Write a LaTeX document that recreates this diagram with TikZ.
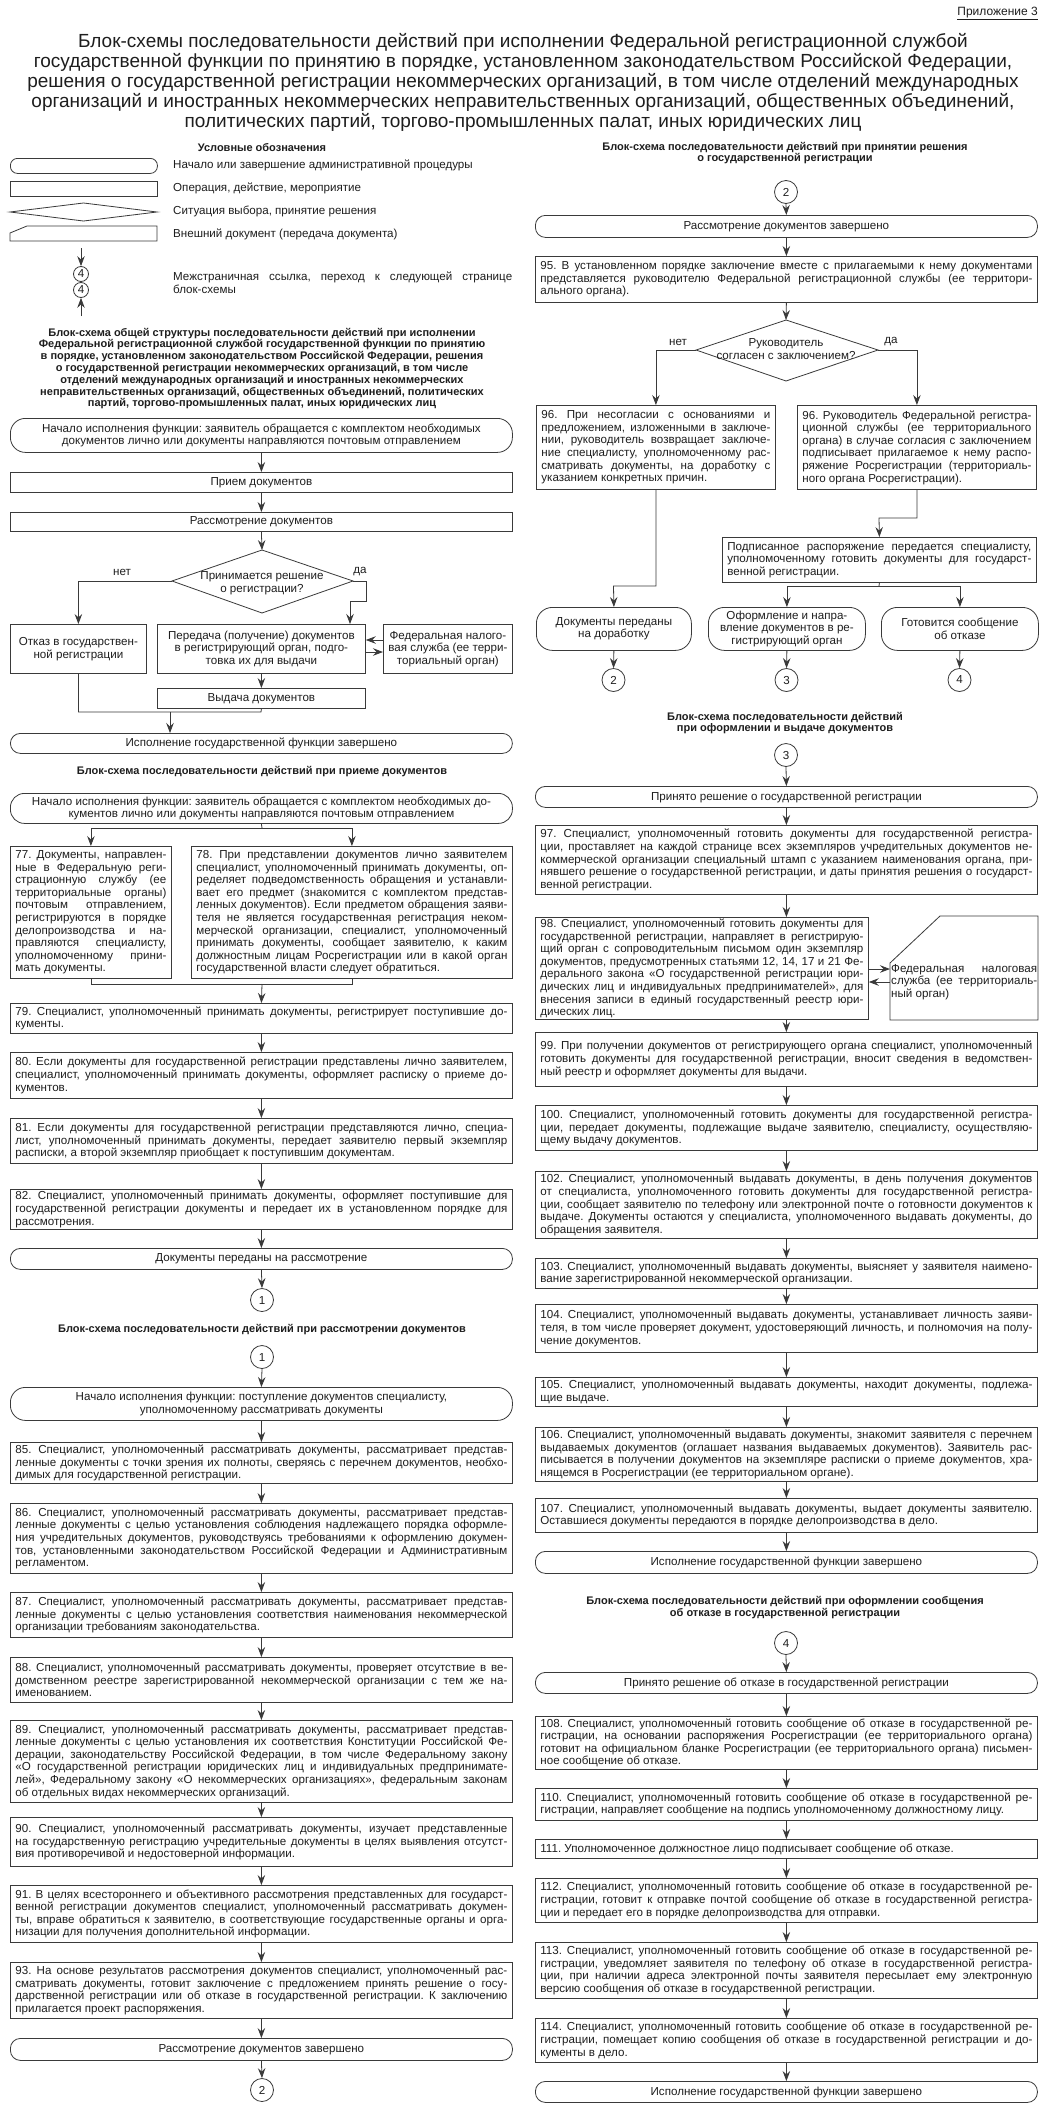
\documentclass[tikz,border=0pt]{standalone}
\usepackage{fontspec}
\setmainfont{Liberation Sans}
\usepackage{graphicx}
\usetikzlibrary{arrows.meta}
\frenchspacing
\definecolor{lc}{HTML}{3A3A3A}
\definecolor{tc}{HTML}{1E1E1E}
\newcommand\bodyf{\fontsize{11.6}{12.6}\selectfont\frenchspacing}
\newcommand\headf{\fontsize{11}{11.8}\selectfont\bfseries}
\newcommand\titf{\fontsize{19}{20}\selectfont}
\newsavebox\lnbox
\newcommand\jl[1]{\sbox\lnbox{#1}\ifdim\wd\lnbox>\hsize\hbox to\hsize{\resizebox{\hsize}{\height}{\usebox\lnbox}}\else\hbox to\hsize{#1}\fi}
\newcommand\el[1]{\sbox\lnbox{#1}\ifdim\wd\lnbox>\hsize\hbox to\hsize{\resizebox{\hsize}{\height}{\usebox\lnbox}}\else\hbox to\hsize{#1\hfil}\fi}
\newcommand\cl[1]{\sbox\lnbox{#1}\ifdim\wd\lnbox>\hsize\hbox to\hsize{\resizebox{\hsize}{\height}{\usebox\lnbox}}\else\hbox to\hsize{\hfil#1\hfil}\fi}
\newcommand\tb[2]{\vbox{\hsize=#1\relax#2}}
\tikzset{
  ln/.style={draw=lc, line width=0.8pt},
  arr/.style={ln, -{Stealth[length=10pt,width=7.5pt,inset=3.5pt]}},
  pbox/.style={draw=lc, line width=0.8pt, anchor=north west, inner xsep=5pt, inner ysep=1pt, font=\bodyf, text=tc, minimum width=502pt},
  term/.style={draw=lc, line width=0.8pt, anchor=north west, rounded corners=10pt, font=\bodyf, text=tc, align=center, minimum width=502pt, inner sep=1pt},
  conn/.style={circle, draw=lc, line width=0.8pt, minimum size=23pt, inner sep=0pt, font=\bodyf, text=tc},
  head/.style={font=\headf, align=center, text=tc, inner sep=0pt},
  lbl/.style={font=\bodyf, text=tc, inner sep=0pt},
}
\newcommand\LB[4]{\node[pbox, minimum height=#3] (#1) at (10,#2) {\tb{492pt}{#4}};}
\newcommand\RB[4]{\node[pbox, minimum height=#3] (#1) at (535,#2) {\tb{492pt}{#4}};}
\newcommand\LT[4]{\node[term, minimum height=#3] (#1) at (10,#2) {#4};}
\newcommand\RT[4]{\node[term, minimum height=#3] (#1) at (535,#2) {#4};}
\begin{document}
\begin{tikzpicture}[x=1pt,y=-1pt]
\useasboundingbox (0,0) rectangle (1046,2120);
\fill[white] (0,0) rectangle (1046,2120);

% ---------- header
\node[anchor=north east, font=\fontsize{12}{13}\selectfont, text=tc, inner sep=0pt] (app) at (1038,7) {\underline{Приложение 3}};
\node[align=center, font=\titf, text=tc, inner sep=0pt] (title) at (523,82) {Блок-схемы последовательности действий при исполнении Федеральной регистрационной службой\\государственной функции по принятию в порядке, установленном законодательством Российской Федерации,\\решения о государственной регистрации некоммерческих организаций, в том числе отделений международных\\организаций и иностранных некоммерческих неправительственных организаций, общественных объединений,\\политических партий, торгово-промышленных палат, иных юридических лиц};

% ---------- legend
\node[head] (legt) at (262,148) {Условные обозначения};
\node[term, minimum width=147pt, minimum height=15pt, rounded corners=7pt] (lg1) at (10,158) {};
\node[pbox, minimum width=147pt, minimum height=15pt] (lg2) at (10,181) {};
\draw[ln] (10,212) -- (83.5,203) -- (157,212) -- (83.5,221) -- cycle;
\draw[ln] (10,233) -- (27,226) -- (157,226) -- (157,241) -- (10,241) -- cycle;
\node[lbl, anchor=west] (lgl1) at (173,165) {Начало или завершение административной процедуры};
\node[lbl, anchor=west] (lgl2) at (173,188) {Операция, действие, мероприятие};
\node[lbl, anchor=west] (lgl3) at (173,211) {Ситуация выбора, принятие решения};
\node[lbl, anchor=west] (lgl4) at (173,234) {Внешний документ (передача документа)};
\node[conn, minimum size=15pt] (lgc1) at (81,274) {4};
\node[conn, minimum size=15pt] (lgc2) at (81,290) {4};
\coordinate (lga) at (81,248);
\coordinate (lgb) at (81,316);
\draw[arr] (lga) -- (lgc1.north);
\draw[arr] (lgb) -- (lgc2.south);
\node[lbl, anchor=west] (lgl5) at (173,283) {\tb{339pt}{\jl{Межстраничная ссылка, переход к следующей странице}\el{блок-схемы}}};

% ---------- general structure
\node[head] (hA) at (262,368.5) {Блок-схема общей структуры последовательности действий при исполнении\\Федеральной регистрационной службой государственной функции по принятию\\в порядке, установленном законодательством Российской Федерации, решения\\о государственной регистрации некоммерческих организаций, в том числе\\отделений международных организаций и иностранных некоммерческих\\неправительственных организаций, общественных объединений, политических\\партий, торгово-промышленных палат, иных юридических лиц};
\node[term, minimum height=34, rounded corners=15pt] (startA) at (10,418) {Начало исполнения функции: заявитель обращается с комплектом необходимых\\документов лично или документы направляются почтовым отправлением};
\node[pbox, minimum height=20] (priem) at (10,472) {\tb{492pt}{\cl{Прием документов}}};
\node[pbox, minimum height=19] (rassm) at (10,512) {\tb{492pt}{\cl{Рассмотрение документов}}};
\coordinate (dAn) at (262,550);
\coordinate (dAe) at (353,581);
\coordinate (dAs) at (262,613);
\coordinate (dAw) at (172,581);
\draw[ln] (dAn) -- (dAe) -- (dAs) -- (dAw) -- cycle;
\node[lbl, align=center] (dA) at (262,583) {Принимается решение\\о регистрации?};
\node[lbl] (netA) at (122,572) {нет};
\node[lbl] (daA) at (360,572) {да};
\node[pbox, minimum width=136, minimum height=49] (otkaz) at (10,624) {\tb{126pt}{\cl{Отказ в государствен-}\cl{ной регистрации}}};
\node[pbox, minimum width=208, minimum height=49] (pered) at (157,624) {\tb{198pt}{\cl{Передача (получение) документов}\cl{в регистрирующий орган, подго-}\cl{товка их для выдачи}}};
\node[pbox, minimum width=129, minimum height=49] (fnsA) at (383,624) {\tb{119pt}{\cl{Федеральная налого-}\cl{вая служба (ее терри-}\cl{ториальный орган)}}};
\node[pbox, minimum width=208, minimum height=20] (vyd) at (157,688) {\tb{198pt}{\cl{Выдача документов}}};
\LT{endA}{733}{20}{Исполнение государственной функции завершено}
\draw[arr] (startA.south) -- (priem.north);
\draw[arr] (priem.south) -- (rassm.north);
\draw[arr] (rassm.south) -- (dAn);
\draw[arr] (dAw) -| (otkaz.north);
\coordinate (daA1) at (366,601);
\coordinate (daA2) at (350,601);
\draw[arr] (dAe) -| (daA1) -- (daA2) -- (daA2 |- pered.north);
\coordinate (pfA) at (0,640);
\coordinate (pfB) at (0,652);
\draw[arr] (fnsA.west |- pfA) -- (pered.east |- pfA);
\draw[arr] (pered.east |- pfB) -- (fnsA.west |- pfB);
\draw[arr] (pered.south) -- (vyd.north);
\coordinate (jA) at (78,712);
\coordinate (jB) at (261,712);
\coordinate (jC) at (170,712);
\draw[ln] (otkaz.south) |- (jB) -- (vyd.south);
\draw[arr] (jC) -- (jC |- endA.north);

% ---------- reception
\node[head] (hB) at (262,772) {Блок-схема последовательности действий при приеме документов};
\node[term, minimum height=30, rounded corners=14pt] (startB) at (10,793) {Начало исполнения функции: заявитель обращается с комплектом необходимых до-\\кументов лично или документы направляются почтовым отправлением};
\node[pbox, minimum width=161, minimum height=132] (b77) at (10,846) {\tb{151pt}{%
\jl{77. Документы, направлен-}\jl{ные в Федеральную реги-}\jl{страционную службу (ее}\jl{территориальные органы)}\jl{почтовым отправлением,}\jl{регистрируются в порядке}\jl{делопроизводства и на-}\jl{правляются специалисту,}\jl{уполномоченному прини-}\el{мать документы.}}};
\node[pbox, minimum width=321, minimum height=132] (b78) at (191,846) {\tb{311pt}{%
\jl{78. При представлении документов лично заявителем}\jl{специалист, уполномоченный принимать документы, оп-}\jl{ределяет подведомственность обращения и устанавли-}\jl{вает его предмет (знакомится с комплектом представ-}\jl{ленных документов). Если предметом обращения заяви-}\jl{теля не является государственная регистрация неком-}\jl{мерческой организации, специалист, уполномоченный}\jl{принимать документы, сообщает заявителю, к каким}\jl{должностным лицам Росрегистрации или в какой орган}\el{государственной власти следует обратиться.}}};
\LB{b79}{1003}{30}{\jl{79. Специалист, уполномоченный принимать документы, регистрирует поступившие до-}\el{кументы.}}
\LB{b80}{1052}{46}{\jl{80. Если документы для государственной регистрации представлены лично заявителем,}\jl{специалист, уполномоченный принимать документы, оформляет расписку о приеме до-}\el{кументов.}}
\LB{b81}{1118}{45}{\jl{81. Если документы для государственной регистрации представляются лично, специа-}\jl{лист, уполномоченный принимать документы, передает заявителю первый экземпляр}\el{расписки, а второй экземпляр приобщает к поступившим документам.}}
\LB{b82}{1189}{40}{\jl{82. Специалист, уполномоченный принимать документы, оформляет поступившие для}\jl{государственной регистрации документы и передает их в установленном порядке для}\el{рассмотрения.}}
\LT{endB}{1248}{21}{Документы переданы на рассмотрение}
\node[conn] (c1a) at (262,1300) {1};
\coordinate (s1) at (262,828);
\draw[ln] (startB.south) -- (s1);
\draw[arr] (s1) -| (b77.north);
\draw[arr] (s1) -| (b78.north);
\coordinate (m1) at (262,984);
\draw[ln] (b77.south) |- (m1);
\draw[ln] (b78.south) |- (m1);
\draw[arr] (m1) -- (b79.north);
\draw[arr] (b79.south) -- (b80.north);
\draw[arr] (b80.south) -- (b81.north);
\draw[arr] (b81.south) -- (b82.north);
\draw[arr] (b82.south) -- (endB.north);
\draw[arr] (endB.south) -- (c1a.north);

% ---------- examination
\node[head] (hC) at (262,1330) {Блок-схема последовательности действий при рассмотрении документов};
\node[conn] (c1b) at (262,1357) {1};
\node[term, minimum height=33, rounded corners=15pt] (startC) at (10,1387) {Начало исполнения функции: поступление документов специалисту,\\уполномоченному рассматривать документы};
\LB{b85}{1442}{41}{\jl{85. Специалист, уполномоченный рассматривать документы, рассматривает представ-}\jl{ленные документы с точки зрения их полноты, сверяясь с перечнем документов, необхо-}\el{димых для государственной регистрации.}}
\LB{b86}{1503}{70}{\jl{86. Специалист, уполномоченный рассматривать документы, рассматривает представ-}\jl{ленные документы с целью установления соблюдения надлежащего порядка оформле-}\jl{ния учредительных документов, руководствуясь требованиями к оформлению докумен-}\jl{тов, установленными законодательством Российской Федерации и Административным}\el{регламентом.}}
\LB{b87}{1592}{45}{\jl{87. Специалист, уполномоченный рассматривать документы, рассматривает представ-}\jl{ленные документы с целью установления соответствия наименования некоммерческой}\el{организации требованиям законодательства.}}
\LB{b88}{1657}{45}{\jl{88. Специалист, уполномоченный рассматривать документы, проверяет отсутствие в ве-}\jl{домственном реестре зарегистрированной некоммерческой организации с тем же на-}\el{именованием.}}
\LB{b89}{1720}{82}{\jl{89. Специалист, уполномоченный рассматривать документы, рассматривает представ-}\jl{ленные документы с целью установления их соответствия Конституции Российской Фе-}\jl{дерации, законодательству Российской Федерации, в том числе Федеральному закону}\jl{«О государственной регистрации юридических лиц и индивидуальных предпринимате-}\jl{лей», Федеральному закону «О некоммерческих организациях», федеральным законам}\el{об отдельных видах некоммерческих организаций.}}
\LB{b90}{1817}{49}{\jl{90. Специалист, уполномоченный рассматривать документы, изучает представленные}\jl{на государственную регистрацию учредительные документы в целях выявления отсутст-}\el{вия противоречивой и недостоверной информации.}}
\LB{b91}{1885}{57}{\jl{91. В целях всестороннего и объективного рассмотрения представленных для государст-}\jl{венной регистрации документов специалист, уполномоченный рассматривать докумен-}\jl{ты, вправе обратиться к заявителю, в соответствующие государственные органы и орга-}\el{низации для получения дополнительной информации.}}
\LB{b93}{1962}{56}{\jl{93. На основе результатов рассмотрения документов специалист, уполномоченный рас-}\jl{сматривать документы, готовит заключение с предложением принять решение о госу-}\jl{дарственной регистрации или об отказе в государственной регистрации. К заключению}\el{прилагается проект распоряжения.}}
\LT{endC}{2038}{22}{Рассмотрение документов завершено}
\node[conn] (c2b) at (262,2090) {2};
\draw[arr] (c1b.south) -- (startC.north);
\draw[arr] (startC.south) -- (b85.north);
\draw[arr] (b85.south) -- (b86.north);
\draw[arr] (b86.south) -- (b87.north);
\draw[arr] (b87.south) -- (b88.north);
\draw[arr] (b88.south) -- (b89.north);
\draw[arr] (b89.south) -- (b90.north);
\draw[arr] (b90.south) -- (b91.north);
\draw[arr] (b91.south) -- (b93.north);
\draw[arr] (b93.south) -- (endC.north);
\draw[arr] (endC.south) -- (c2b.north);

% ---------- decision (right)
\node[head] (hD) at (785,153) {Блок-схема последовательности действий при принятии решения\\о государственной регистрации};
\node[conn] (c2c) at (786,192) {2};
\RT{tD}{215}{22}{Рассмотрение документов завершено}
\RB{b95}{256}{46}{\jl{95. В установленном порядке заключение вместе с прилагаемыми к нему документами}\jl{представляется руководителю Федеральной регистрационной службы (ее территори-}\el{ального органа).}}
\coordinate (dBn) at (786,320);
\coordinate (dBe) at (878,350);
\coordinate (dBs) at (786,381);
\coordinate (dBw) at (696,350);
\draw[ln] (dBn) -- (dBe) -- (dBs) -- (dBw) -- cycle;
\node[lbl, align=center] (dB) at (786,349) {Руководитель\\согласен с заключением?};
\node[lbl] (netB) at (678,342) {нет};
\node[lbl] (daB) at (891,342) {да};
\node[pbox, minimum width=239, minimum height=84] (b96l) at (536,405) {\tb{229pt}{\jl{96. При несогласии с основаниями и}\jl{предложением, изложенными в заключе-}\jl{нии, руководитель возвращает заключе-}\jl{ние специалисту, уполномоченному рас-}\jl{сматривать документы, на доработку с}\el{указанием конкретных причин.}}};
\node[pbox, minimum width=239, minimum height=84] (b96r) at (797,405) {\tb{229pt}{\jl{96. Руководитель Федеральной регистра-}\jl{ционной службы (ее территориального}\jl{органа) в случае согласия с заключением}\jl{подписывает прилагаемое к нему распо-}\jl{ряжение Росрегистрации (территориаль-}\el{ного органа Росрегистрации).}}};
\node[pbox, minimum width=314, minimum height=45] (podp) at (722,537) {\tb{304pt}{\jl{Подписанное распоряжение передается специалисту,}\jl{уполномоченному готовить документы для государст-}\el{венной регистрации.}}};
\node[term, minimum width=155, minimum height=43, rounded corners=16pt] (t1) at (536,607) {Документы переданы\\на доработку};
\node[term, minimum width=157, minimum height=43, rounded corners=16pt] (t2) at (708,607) {Оформление и напра-\\вление документов в ре-\\гистрирующий орган};
\node[term, minimum width=157, minimum height=43, rounded corners=16pt] (t3) at (881,607) {Готовится сообщение\\об отказе};
\node[conn] (c2d) at (613.5,680) {2};
\node[conn] (c3a) at (786.5,680) {3};
\node[conn] (c4a) at (959.5,680) {4};
\draw[arr] (c2c.south) -- (tD.north);
\draw[arr] (tD.south) -- (b95.north);
\draw[arr] (b95.south) -- (dBn);
\draw[arr] (dBw) -| (b96l.north);
\draw[arr] (dBe) -| (b96r.north);
\coordinate (k1) at (613.5,586);
\coordinate (k2) at (879,518);
\coordinate (k3) at (879,586);
\draw[arr] (b96l.south) |- (k1) -- (t1.north);
\draw[arr] (b96r.south) |- (k2) -- (podp.north);
\draw[ln] (podp.south) -- (k3);
\draw[arr] (k3) -| (t2.north);
\draw[arr] (k3) -| (t3.north);
\draw[arr] (t1.south) -- (c2d.north);
\draw[arr] (t2.south) -- (c3a.north);
\draw[arr] (t3.south) -- (c4a.north);

% ---------- issue (right)
\node[head] (hE) at (785,723) {Блок-схема последовательности действий\\при оформлении и выдаче документов};
\node[conn] (c3b) at (786,755) {3};
\RT{tE}{786}{21}{Принято решение о государственной регистрации}
\RB{b97}{825}{69}{\jl{97. Специалист, уполномоченный готовить документы для государственной регистра-}\jl{ции, проставляет на каждой странице всех экземпляров учредительных документов не-}\jl{коммерческой организации специальный штамп с указанием наименования органа, при-}\jl{нявшего решение о государственной регистрации, и даты принятия решения о государст-}\el{венной регистрации.}}
\node[pbox, minimum width=333, minimum height=102] (b98) at (535,917) {\tb{323pt}{\jl{98. Специалист, уполномоченный готовить документы для}\jl{государственной регистрации, направляет в регистрирую-}\jl{щий орган с сопроводительным письмом один экземпляр}\jl{документов, предусмотренных статьями 12, 14, 17 и 21 Фе-}\jl{дерального закона «О государственной регистрации юри-}\jl{дических лиц и индивидуальных предпринимателей», для}\jl{внесения записи в единый государственный реестр юри-}\el{дических лиц.}}};
\draw[ln] (890,963) -- (940,916) -- (1038,916) -- (1038,1020) -- (890,1020) -- cycle;
\node[lbl, anchor=north west] (fnsB) at (891,964) {\tb{146pt}{\jl{Федеральная налоговая}\jl{служба (ее территориаль-}\el{ный орган)}}};
\coordinate (fb1) at (890,969);
\coordinate (fb2) at (890,982);
\draw[arr] (b98.east |- fb1) -- (fb1);
\draw[arr] (fb2) -- (b98.east |- fb2);
\RB{b99}{1032}{54}{\jl{99. При получении документов от регистрирующего органа специалист, уполномоченный}\jl{готовить документы для государственной регистрации, вносит сведения в ведомствен-}\el{ный реестр и оформляет документы для выдачи.}}
\RB{b100}{1105}{45}{\jl{100. Специалист, уполномоченный готовить документы для государственной регистра-}\jl{ции, передает документы, подлежащие выдаче заявителю, специалисту, осуществляю-}\el{щему выдачу документов.}}
\RB{b102}{1171}{67}{\jl{102. Специалист, уполномоченный выдавать документы, в день получения документов}\jl{от специалиста, уполномоченного готовить документы для государственной регистра-}\jl{ции, сообщает заявителю по телефону или электронной почте о готовности документов к}\jl{выдаче. Документы остаются у специалиста, уполномоченного выдавать документы, до}\el{обращения заявителя.}}
\RB{b103}{1258}{30}{\jl{103. Специалист, уполномоченный выдавать документы, выясняет у заявителя наимено-}\el{вание зарегистрированной некоммерческой организации.}}
\RB{b104}{1304}{48}{\jl{104. Специалист, уполномоченный выдавать документы, устанавливает личность заяви-}\jl{теля, в том числе проверяет документ, удостоверяющий личность, и полномочия на полу-}\el{чение документов.}}
\RB{b105}{1377}{29}{\jl{105. Специалист, уполномоченный выдавать документы, находит документы, подлежа-}\el{щие выдаче.}}
\RB{b106}{1427}{54}{\jl{106. Специалист, уполномоченный выдавать документы, знакомит заявителя с перечнем}\jl{выдаваемых документов (оглашает названия выдаваемых документов). Заявитель рас-}\jl{писывается в получении документов на экземпляре расписки о приеме документов, хра-}\el{нящемся в Росрегистрации (ее территориальном органе).}}
\RB{b107}{1498}{34}{\jl{107. Специалист, уполномоченный выдавать документы, выдает документы заявителю.}\el{Оставшиеся документы передаются в порядке делопроизводства в дело.}}
\RT{endE}{1551}{22}{Исполнение государственной функции завершено}
\draw[arr] (c3b.south) -- (tE.north);
\draw[arr] (tE.south) -- (b97.north);
\draw[arr] (b97.south) -- (b97.south |- b98.north);
\draw[arr] (b97.south |- b98.south) -- (b99.north);
\draw[arr] (b99.south) -- (b100.north);
\draw[arr] (b100.south) -- (b102.north);
\draw[arr] (b102.south) -- (b103.north);
\draw[arr] (b103.south) -- (b104.north);
\draw[arr] (b104.south) -- (b105.north);
\draw[arr] (b105.south) -- (b106.north);
\draw[arr] (b106.south) -- (b107.north);
\draw[arr] (b107.south) -- (endE.north);

% ---------- refusal (right)
\node[head] (hF) at (785,1607.5) {Блок-схема последовательности действий при оформлении сообщения\\об отказе в государственной регистрации};
\node[conn] (c4b) at (786,1643) {4};
\RT{tF}{1672}{21}{Принято решение об отказе в государственной регистрации}
\RB{b108}{1716}{53}{\jl{108. Специалист, уполномоченный готовить сообщение об отказе в государственной ре-}\jl{гистрации, на основании распоряжения Росрегистрации (ее территориального органа)}\jl{готовит на официальном бланке Росрегистрации (ее территориального органа) письмен-}\el{ное сообщение об отказе.}}
\RB{b110}{1788}{32}{\jl{110. Специалист, уполномоченный готовить сообщение об отказе в государственной ре-}\el{гистрации, направляет сообщение на подпись уполномоченному должностному лицу.}}
\RB{b111}{1839}{19}{\el{111. Уполномоченное должностное лицо подписывает сообщение об отказе.}}
\RB{b112}{1878}{44}{\jl{112. Специалист, уполномоченный готовить сообщение об отказе в государственной ре-}\jl{гистрации, готовит к отправке почтой сообщение об отказе в государственной регистра-}\el{ции и передает его в порядке делопроизводства для отправки.}}
\RB{b113}{1942}{56}{\jl{113. Специалист, уполномоченный готовить сообщение об отказе в государственной ре-}\jl{гистрации, уведомляет заявителя по телефону об отказе в государственной регистра-}\jl{ции, при наличии адреса электронной почты заявителя пересылает ему электронную}\el{версию сообщения об отказе в государственной регистрации.}}
\RB{b114}{2018}{44}{\jl{114. Специалист, уполномоченный готовить сообщение об отказе в государственной ре-}\jl{гистрации, помещает копию сообщения об отказе в государственной регистрации и до-}\el{кументы в дело.}}
\RT{endF}{2081}{21}{Исполнение государственной функции завершено}
\draw[arr] (c4b.south) -- (tF.north);
\draw[arr] (tF.south) -- (b108.north);
\draw[arr] (b108.south) -- (b110.north);
\draw[arr] (b110.south) -- (b111.north);
\draw[arr] (b111.south) -- (b112.north);
\draw[arr] (b112.south) -- (b113.north);
\draw[arr] (b113.south) -- (b114.north);
\draw[arr] (b114.south) -- (endF.north);
\end{tikzpicture}
\end{document}
